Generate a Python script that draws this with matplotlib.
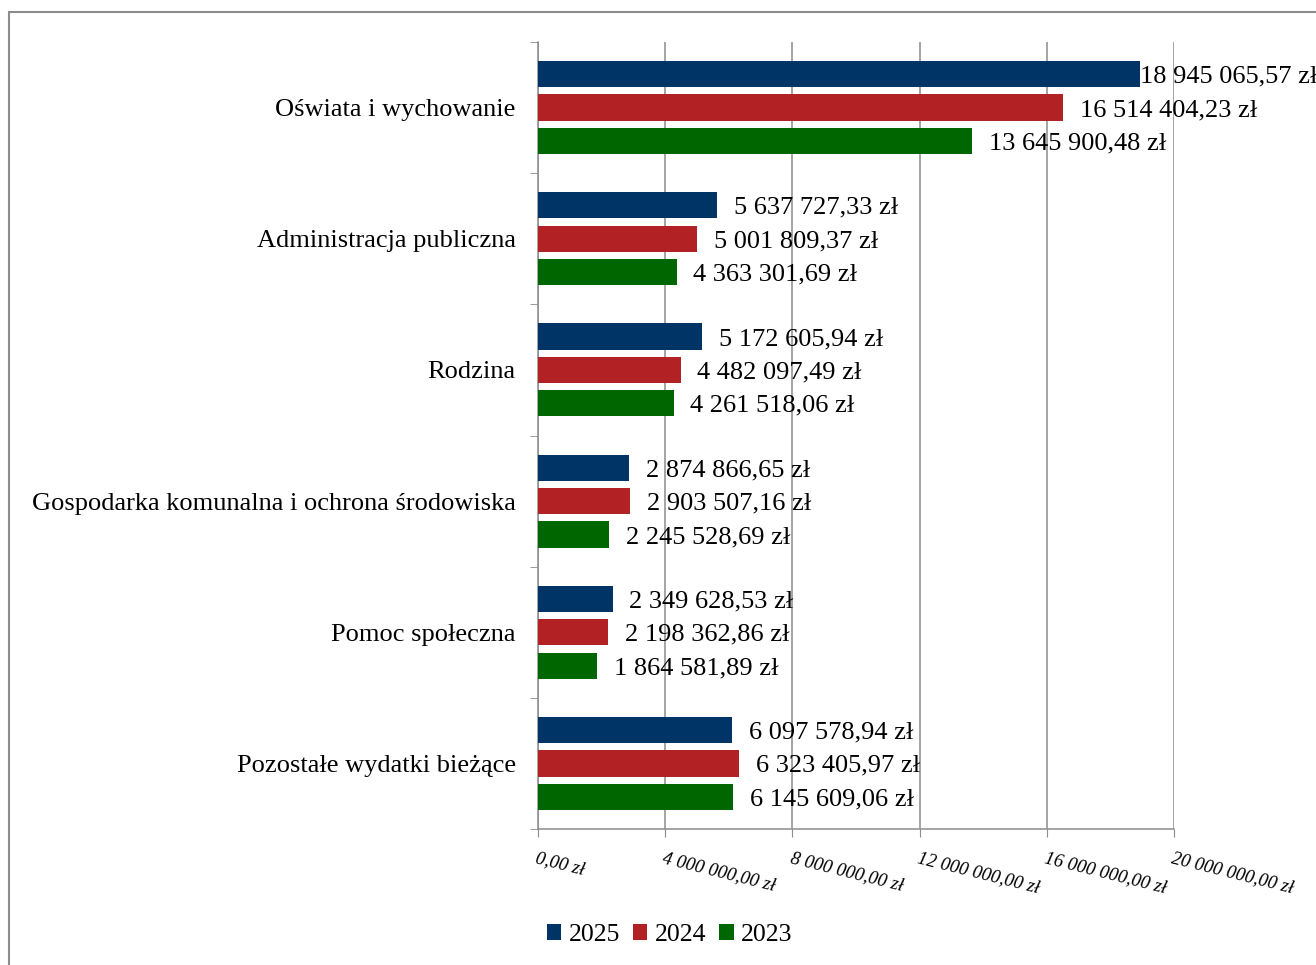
import matplotlib.pyplot as plt
import numpy as np
from matplotlib.patches import Rectangle
from matplotlib.ticker import FuncFormatter

categories = ['Oświata i wychowanie', 'Administracja publiczna', 'Rodzina',
              'Gospodarka komunalna i ochrona środowiska', 'Pomoc społeczna',
              'Pozostałe wydatki bieżące']
years = ['2025', '2024', '2023']
values_2025 = [18945065.57, 5637727.33, 5172605.94, 2874866.65, 2349628.53, 6097578.94]
values_2024 = [16514404.23, 5001809.37, 4482097.49, 2903507.16, 2198362.86, 6323405.97]
values_2023 = [13645900.48, 4363301.69, 4261518.06, 2245528.69, 1864581.89, 6145609.06]
colors = ['#003366', '#B22225', '#006600']
x_ticks = [0, 4e6, 8e6, 12e6, 16e6, 20e6]


def pln(v: float) -> str:
    s = f'{v:,.2f}'.replace(',', ' ').replace('.', ',')
    return f'{s} zł'


plt.rcParams['font.family'] = ['Liberation Serif', 'DejaVu Serif']

fig = plt.figure(figsize=(13.16, 9.65), dpi=100)
ax = fig.add_axes([538 / 1316, 1 - 829 / 965, 636 / 1316, 787 / 965])

# outer chart frame (clipped on right and bottom in the original)
fig.patches.append(Rectangle((9 / 1316, -0.1), 1.2, 1 - 12 / 965 + 0.1,
                             transform=fig.transFigure, fill=False,
                             edgecolor='#8c8c8c', linewidth=1.5))

y = np.arange(len(categories))
step = 0.255
height = 0.2
series = [values_2025, values_2024, values_2023]
vmax = max(values_2025 + values_2024 + values_2023)

for i, (vals, year, color) in enumerate(zip(series, years, colors)):
    pos = y + (i - 1) * step
    ax.barh(pos, vals, height=height, color=color, label=year, zorder=3)
    for p, v in zip(pos, vals):
        off = 0 if v == vmax else 12
        ax.annotate(pln(v), (v, p), xytext=(off, 0), textcoords='offset points',
                    ha='left', va='center_baseline', fontsize=19, zorder=4,
                    annotation_clip=False)

ax.set_ylim(len(categories) - 0.5, -0.5)
ax.set_xlim(0, 20e6)

ax.set_yticks(y)
ax.set_yticklabels(categories, fontsize=19)
ax.set_yticks(np.arange(len(categories) + 1) - 0.5, minor=True)
ax.tick_params(axis='y', which='major', length=0, pad=16)
ax.tick_params(axis='y', which='minor', length=6, color='#8c8c8c')

ax.set_xticks(x_ticks)
ax.xaxis.set_major_formatter(FuncFormatter(lambda v, _: pln(v)))
ax.tick_params(axis='x', length=6, color='#8c8c8c', pad=9)
for lab in ax.get_xticklabels():
    lab.set_rotation(-14)
    lab.set_rotation_mode('anchor')
    lab.set_ha('left')
    lab.set_va('top')
    lab.set_fontstyle('italic')
    lab.set_fontsize(13.5)

ax.grid(axis='x', color='#8c8c8c', linewidth=1.1, zorder=0)
for side in ['top', 'right']:
    ax.spines[side].set_visible(False)
for side in ['left', 'bottom']:
    ax.spines[side].set_color('#8c8c8c')
    ax.spines[side].set_linewidth(1.1)

fig.legend(loc='center', bbox_to_anchor=(670 / 1316, 1 - 935 / 965), ncol=3,
           frameon=False, fontsize=18.5, handlelength=0.55, handleheight=0.55,
           handletextpad=0.3, columnspacing=0.5)

fig.savefig('out.png', dpi=100)
